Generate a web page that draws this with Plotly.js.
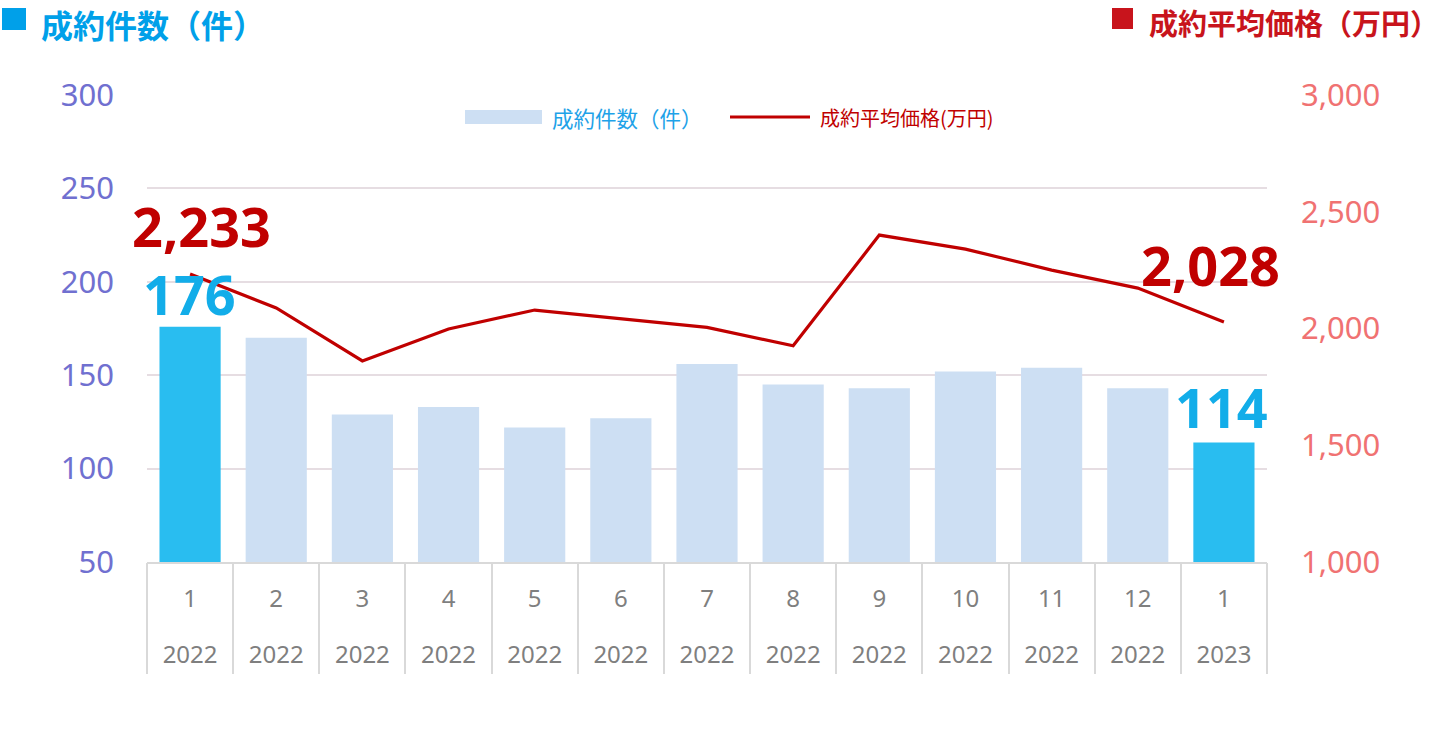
<!DOCTYPE html>
<html>
<head>
<meta charset="utf-8">
<script src="https://cdn.plot.ly/plotly-3.0.1.min.js"></script>
<style>
html,body{margin:0;padding:0;background:#fff;}
#chart{width:1440px;height:738px;}
</style>
</head>
<body>
<div id="chart"></div>
<script>
// ---- data ----
const months = [1, 2, 3, 4, 5, 6, 7, 8, 9, 10, 11, 12, 1];
const years  = [2022, 2022, 2022, 2022, 2022, 2022, 2022, 2022, 2022, 2022, 2022, 2022, 2023];
const counts = [176, 170, 129, 133, 122, 127, 156, 145, 143, 152, 154, 143, 114];
const prices = [2233, 2088, 1861, 1998, 2079, 2042, 2005, 1926, 2400, 2340, 2250, 2173, 2028];
const countName = '成約件数（件）';
const priceName = '成約平均価格(万円)';
const leftTitle = '成約件数（件）';
const rightTitle = '成約平均価格（万円）';
const countTicks = [50, 100, 150, 200, 250, 300];
const countGrid = [100, 150, 200, 250];
const priceTicks = [1000, 1500, 2000, 2500, 3000];

// ---- derived ----
const keys = months.map((m, i) => years[i] + '-' + m);
const idx = months.map((m, i) => i);
const bounds = months.map((m, i) => i - 0.5).concat([months.length - 0.5]);
const last = months.length - 1;
const HI = '#29bdf0', LO = '#cddff3';
const barColors = counts.map((v, i) => (i === 0 || i === last) ? HI : LO);

const FONT = '"Noto Sans", "Noto Sans CJK JP", sans-serif';
const CJK = '"Noto Sans CJK JP", "Noto Sans", sans-serif';

const L = 147, R = 1267, T = 95, B = 562;
const px = v => (v - L) / (R - L);
const py = v => (B - v) / (B - T);

const hidden = {mode: 'markers', marker: {opacity: 0, size: 1}, hoverinfo: 'skip', showlegend: false};

const traces = [
  // helper (invisible) traces so the auxiliary axes get drawn
  Object.assign({type: 'scatter', x: idx, y: counts, xaxis: 'x2', yaxis: 'y'}, hidden),
  Object.assign({type: 'scatter', x: bounds, y: bounds.map(() => countTicks[0]), xaxis: 'x3', yaxis: 'y'}, hidden),
  Object.assign({type: 'scatter', x: keys, y: counts, xaxis: 'x', yaxis: 'y3'}, hidden),
  {
    type: 'bar', x: keys, y: counts, name: countName,
    marker: {color: barColors}, hoverinfo: 'skip', showlegend: false
  },
  {
    type: 'scatter', mode: 'lines', x: keys, y: prices, name: priceName, yaxis: 'y2',
    line: {color: '#c00000', width: 3.2}, hoverinfo: 'skip', showlegend: false
  }
];

const fmt = v => v.toLocaleString('en-US');

const annotations = [
  // value labels
  {x: keys[0], y: prices[0], xref: 'x', yref: 'y2', text: '<b>' + fmt(prices[0]) + '</b>',
   showarrow: false, xshift: 11, yshift: 48, font: {family: FONT, size: 54, color: '#c00000'}},
  {x: keys[0], y: counts[0], xref: 'x', yref: 'y', text: '<b>' + counts[0] + '</b>',
   showarrow: false, xshift: -1, yshift: 33, font: {family: FONT, size: 54, color: '#12ade9'}},
  {x: keys[last], y: prices[last], xref: 'x', yref: 'y2', text: '<b>' + fmt(prices[last]) + '</b>',
   showarrow: false, xshift: -13, yshift: 57, font: {family: FONT, size: 54, color: '#c00000'}},
  {x: keys[last], y: counts[last], xref: 'x', yref: 'y', text: '<b>' + counts[last] + '</b>',
   showarrow: false, xshift: -2, yshift: 35, font: {family: FONT, size: 54, color: '#12ade9'}},
  // titles
  {x: px(40), y: py(0), xref: 'paper', yref: 'paper', xanchor: 'left', yanchor: 'top', borderpad: 0,
   text: '<b>' + leftTitle + '</b>', showarrow: false, font: {family: CJK, size: 32, color: '#00a0e9'}},
  {x: px(1440), y: py(0), xref: 'paper', yref: 'paper', xanchor: 'right', yanchor: 'top', borderpad: 0,
   text: '<b>' + rightTitle + '</b>', showarrow: false, font: {family: CJK, size: 29, color: '#c8141c'}},
  // legend texts
  {x: px(550), y: py(117), xref: 'paper', yref: 'paper', xanchor: 'left', yanchor: 'middle',
   text: countName, showarrow: false, font: {family: CJK, size: 21.5, color: '#1ea2e8'}},
  {x: px(818), y: py(117), xref: 'paper', yref: 'paper', xanchor: 'left', yanchor: 'middle',
   text: priceName, showarrow: false, font: {family: CJK, size: 20, color: '#c00000'}}
];

const shapes = [
  {type: 'rect', xref: 'paper', yref: 'paper', x0: px(2), x1: px(26), y0: py(30), y1: py(8),
   fillcolor: '#00a0e9', line: {width: 0}},
  {type: 'rect', xref: 'paper', yref: 'paper', x0: px(1112), x1: px(1133), y0: py(29), y1: py(8),
   fillcolor: '#c8141c', line: {width: 0}},
  {type: 'rect', xref: 'paper', yref: 'paper', x0: px(465), x1: px(542), y0: py(124), y1: py(110),
   fillcolor: LO, line: {width: 0}},
  {type: 'line', xref: 'paper', yref: 'paper', x0: px(730), x1: px(810), y0: py(117), y1: py(117),
   line: {color: '#c00000', width: 3}}
];

const layout = {
  width: 1440, height: 738,
  margin: {l: L, r: 1440 - R, t: T, b: 738 - B, pad: 0},
  paper_bgcolor: '#ffffff', plot_bgcolor: 'rgba(0,0,0,0)',
  bargap: 0.29,
  showlegend: false,
  xaxis: {
    type: 'category', categoryorder: 'array', categoryarray: keys,
    range: [-0.5, months.length - 0.5],
    tickvals: keys, ticktext: months.map(String),
    ticks: '', showgrid: false, zeroline: false,
    showline: true, linecolor: '#d9d9d9', linewidth: 2,
    tickfont: {family: FONT, size: 24, color: '#7f7f7f'},
    ticklabelstandoff: 14, fixedrange: true
  },
  xaxis2: {
    overlaying: 'x', anchor: 'y', side: 'bottom', type: 'linear',
    range: [-0.5, months.length - 0.5],
    tickmode: 'array', tickvals: idx, ticktext: years.map(String),
    ticks: '', showgrid: false, zeroline: false, showline: false,
    tickfont: {family: FONT, size: 24, color: '#7f7f7f'},
    ticklabelstandoff: 76, fixedrange: true
  },
  xaxis3: {
    overlaying: 'x', anchor: 'y', side: 'bottom', type: 'linear',
    range: [-0.5, months.length - 0.5],
    tickmode: 'array', tickvals: bounds,
    ticks: 'outside', ticklen: 111, tickwidth: 2, tickcolor: '#d9d9d9',
    showticklabels: false, showgrid: false, zeroline: false, showline: false, fixedrange: true
  },
  yaxis: {
    range: [50, 300], tickmode: 'array', tickvals: countTicks,
    ticks: '', showgrid: false, zeroline: false, showline: false,
    tickfont: {family: FONT, size: 31, color: '#7070d0'},
    ticklabelstandoff: 32, fixedrange: true
  },
  yaxis2: {
    overlaying: 'y', side: 'right', anchor: 'x',
    range: [1000, 3000], tickmode: 'array', tickvals: priceTicks, tickformat: ',d',
    ticks: '', showgrid: false, zeroline: false, showline: false,
    tickfont: {family: FONT, size: 31, color: '#f07272'},
    ticklabelstandoff: 33, fixedrange: true
  },
  yaxis3: {
    overlaying: 'y', side: 'left', anchor: 'x',
    range: [50, 300], tickmode: 'array', tickvals: countGrid,
    showticklabels: false, ticks: '', showgrid: true, gridcolor: '#e6dde2', gridwidth: 2,
    zeroline: false, showline: false, fixedrange: true
  },
  annotations: annotations,
  shapes: shapes
};

Plotly.newPlot('chart', traces, layout, {displayModeBar: false, staticPlot: true});
</script>
</body>
</html>
